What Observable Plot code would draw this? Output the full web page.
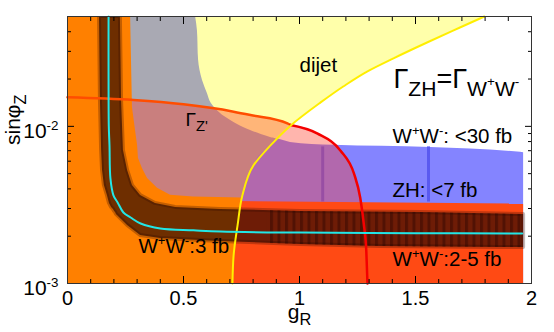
<!DOCTYPE html>
<html><head><meta charset="utf-8">
<script src="https://cdn.jsdelivr.net/npm/d3@7"></script>
<script src="https://cdn.jsdelivr.net/npm/@observablehq/plot@0.6"></script>
<style>
body{margin:0;background:#fff;}
#chart svg{display:block;font-family:"Liberation Sans",Arial,Helvetica,sans-serif;}
</style></head><body><div id="chart"></div>
<script>
// ---- data (x = g_R, y = sin phi_Z) ----
// dijet boundary (yellow line)
const dijetX = [0.711, 0.716, 0.733, 0.754, 0.802, 0.875, 0.961, 1.091, 1.190, 1.293, 1.405, 1.552, 1.694, 1.797];
const dijetY = [1.00e-3, 1.51e-3, 2.34e-3, 3.64e-3, 5.65e-3, 7.57e-3, 1.01e-2, 1.42e-2, 1.80e-2, 2.24e-2, 2.71e-2, 3.43e-2, 4.27e-2, 5.00e-2];
// ZH region upper edge, left part (inside dijet)
const zhTopLeftX = [0.900, 0.875, 0.789, 0.690, 0.620, 0.603, 0.582, 0.565, 0.560, 0.552];
const zhTopLeftY = [8.30e-3, 8.50e-3, 9.40e-3, 1.12e-2, 1.40e-2, 1.62e-2, 1.96e-2, 2.63e-2, 4.08e-2, 5.00e-2];
// ZH region upper edge, right part
const zhTopRightX = [0.900, 0.961, 1.147, 1.565, 1.953, 1.966];
const zhTopRightY = [8.30e-3, 7.90e-3, 7.57e-3, 7.34e-3, 6.83e-3, 6.80e-3];
const zhStripeX = [1.10, 1.556];
// Gamma_Z' boundary
const gammaX = [0, 0.284, 0.50, 0.716, 0.789, 0.948, 1.078, 1.177, 1.235, 1.262, 1.277, 1.288, 1.293];
const gammaY = [1.53e-2, 1.47e-2, 1.38e-2, 1.24e-2, 1.18e-2, 1.045e-2, 9.0e-3, 7.0e-3, 5.0e-3, 3.5e-3, 2.4e-3, 1.6e-3, 1.0e-3];
// W+W- 2-5 fb region (top edge)
const ww25X = [0.700, 1.966];
const ww25Y = [3.32e-3, 3.20e-3];
// W+W- excluded region edge (orange), above the dijet line
const wwEdgeX = [0.752, 0.543, 0.444, 0.388, 0.345, 0.323, 0.306, 0.302, 0.293, 0.280, 0.272];
const wwEdgeY = [3.50e-3, 3.55e-3, 3.64e-3, 4.03e-3, 4.66e-3, 5.40e-3, 6.25e-3, 7.57e-3, 9.44e-3, 1.32e-2, 5.00e-2];
// W+W- 3 fb band (dark): y, left/lower edge x, right/upper edge x
const bandY  = [1.695e-3, 1.721e-3, 1.772e-3, 1.852e-3, 1.935e-3, 2.021e-3, 2.341e-3, 2.751e-3, 2.833e-3, 2.875e-3, 2.960e-3, 3.049e-3, 3.233e-3, 3.636e-3, 4.210e-3, 5.245e-3, 7.033e-3, 1.464e-2, 5.0e-2];
const bandX1 = [1.866, 1.349, 1.004, 0.659, 0.401, 0.315, 0.259, 0.211, 0.207, 0.203, 0.198, 0.190, 0.181, 0.172, 0.159, 0.151, 0.147, 0.142, 0.138];
const bandX2 = [1.966, 1.966, 1.966, 1.966, 1.966, 1.966, 1.966, 1.966, 1.522, 1.004, 0.659, 0.466, 0.379, 0.315, 0.280, 0.259, 0.241, 0.233, 0.228];
// striped (right) part of the band
const bandRightX  = [0.86, 1.0, 1.35, 1.52, 1.966];
const bandRightY1 = [1.80e-3, 1.77e-3, 1.72e-3, 1.71e-3, 1.69e-3];
const bandRightY2 = [2.91e-3, 2.875e-3, 2.84e-3, 2.833e-3, 2.751e-3];
// W+W- = 3 fb central curve (cyan)
const cyanX = [0.177, 0.177, 0.178, 0.181, 0.185, 0.198, 0.216, 0.241, 0.272, 0.315, 0.40, 0.543, 0.66, 1.0, 1.5, 1.96];
const cyanY = [5.0e-2, 2.0e-2, 1.0e-2, 7.57e-3, 4.66e-3, 3.64e-3, 3.28e-3, 2.83e-3, 2.63e-3, 2.41e-3, 2.24e-3, 2.18e-3, 2.14e-3, 2.11e-3, 2.09e-3, 2.08e-3];
// labels
const labelText = ["dijet", "Γ_{ZH}=Γ_{W}~{+}_{W}~{-}", "W^{+}W^{-}: <30 fb", "ZH: <7 fb", "W^{+}W^{-}:2-5 fb", "W^{+}W^{-}:3 fb", "Γ_{Z'}"];
const labelX = [1.0, 1.405, 1.401, 1.401, 1.401, 0.306, 0.509];
const labelY = [0.0221, 0.01746, 7.85e-3, 3.53e-3, 1.30e-3, 1.57e-3, 1.01e-2];
const labelSize = [20.5, 27, 20.5, 20.5, 20.5, 20.5, 19];
const xTicks = [0, 0.5, 1, 1.5, 2];
const xTickLabels = ["0", "0.5", "1", "1.5", "2"];
const yTicks = [1e-3, 1e-2];
const yTickLabels = ["10^{-3}", "10^{-2}"];
const xLabel = "g_{R}";
const yLabel = "sinφ_{Z}";

// ---- build tables ----
const zip = (X, Y) => X.map((x, i) => ({x, y: Y[i]}));
const dijet = zip(dijetX, dijetY);
const yMin = 1e-3, yMax = 5e-2;
const yellowArea = [{x: 0, y: yMin}, ...dijet];
const zhLeft = [...dijet.filter(d => d.y < 8.3e-3), ...zip(zhTopLeftX, zhTopLeftY)];
const zhRight = [...dijet.filter(d => d.x < 0.9), ...zip(zhTopRightX, zhTopRightY)];
const gamma = zip(gammaX, gammaY);
const gammaSplit = 0.961;
const gammaA = [...gamma.filter(d => d.x <= gammaSplit), {x: gammaSplit, y: 1.02e-2}];
const gammaB = [{x: gammaSplit, y: 1.02e-2}, ...gamma.filter(d => d.x > gammaSplit)];
const ww25 = zip(ww25X, ww25Y);
const wwOrange = [...dijet.filter(d => d.y < 3.5e-3), ...zip(wwEdgeX, wwEdgeY)];
const band = bandY.map((y, i) => ({y, x1: bandX1[i], x2: bandX2[i]}));
const bandRight = bandRightX.map((x, i) => ({x, y1: bandRightY1[i], y2: bandRightY2[i]}));
const cyan = zip(cyanX, cyanY);
const labels = labelText.map((t, i) => ({t, x: labelX[i], y: labelY[i], s: labelSize[i]}));
const xMinor = d3.range(0, 21).map(i => i / 10).filter(v => !xTicks.includes(v));
const yMinor = [];
for (const e of [1e-3, 1e-2]) for (let k = 2; k <= 9; k++) if (k * e <= yMax + 1e-12) yMinor.push(k * e);

const chart = Plot.plot({
  width: 554, height: 332,
  marginLeft: 67, marginRight: 23, marginTop: 16, marginBottom: 49,
  style: {fontFamily: '"Liberation Sans", Arial, Helvetica, sans-serif', color: "#000", background: "#fff"},
  x: {domain: [0, 2]},
  y: {type: "log", domain: [yMin, yMax]},
  marks: [
    Plot.areaY(yellowArea, {x: "x", y1: "y", y2: yMax, fill: "#ffffaa", curve: "monotone-x"}),
    Plot.areaX(zhLeft, {y: "y", x1: 0, x2: "x", fill: "#a9a9b3", curve: "monotone-y"}),
    Plot.areaY(zhRight, {x: "x", y1: yMin, y2: "y", fill: "#8484ff", curve: "monotone-x"}),
    Plot.ruleX(zhStripeX, {x: d => d, y1: 3.3e-3, y2: 7.4e-3, stroke: "#5a5af0", strokeWidth: 3}),
    Plot.areaY(gamma, {x: "x", y1: yMin, y2: "y", fill: "#ff3c28", fillOpacity: 0.38, curve: "monotone-x"}),
    Plot.areaY(ww25, {x: "x", y1: yMin, y2: "y", fill: "#ff4a14"}),
    Plot.areaX(wwOrange, {y: "y", x1: 0, x2: "x", fill: "#ff8000", curve: "linear"}),
    // 3 fb band (dark, translucent, soft edge)
    Plot.areaX(band, {y: "y", x1: "x1", x2: "x2", fill: "#2a0800", fillOpacity: 0.68, stroke: "#2a0800", strokeOpacity: 0.28, strokeWidth: 4, curve: "linear", clip: true}),
    Plot.areaY(bandRight, {x: "x", y1: "y1", y2: "y2", fill: "url(#bandStripes)", curve: "linear", clip: true}),
    // boundary lines
    Plot.line(gammaA, {x: "x", y: "y", stroke: "#ff4d00", strokeWidth: 2.5, curve: "monotone-x"}),
    Plot.line(gammaB, {x: "x", y: "y", stroke: "#f40000", strokeWidth: 2.5, curve: "monotone-x"}),
    Plot.line(dijet, {x: "x", y: "y", stroke: "#ffee00", strokeWidth: 2, curve: "monotone-y"}),
    Plot.line(cyan, {x: "x", y: "y", stroke: "#22e6e6", strokeWidth: 2, curve: "catmull-rom"}),
    // labels
    Plot.text(labels, {x: "x", y: "y", text: "t", fontSize: "s", textAnchor: "start", lineAnchor: "bottom", fill: "#000"}),
    // axes: inward ticks on all sides
    Plot.axisX(xMinor, {anchor: "bottom", tickSize: -4, fill: "none", label: null}),
    Plot.axisX(xTicks, {anchor: "bottom", tickSize: -7, fill: "none", label: null}),
    Plot.axisX(xMinor, {anchor: "top", tickSize: -4, fill: "none", label: null}),
    Plot.axisX(xTicks, {anchor: "top", tickSize: -7, fill: "none", label: null}),
    Plot.axisY(yMinor, {anchor: "left", tickSize: -4, fill: "none", label: null}),
    Plot.axisY(yTicks, {anchor: "left", tickSize: -7, fill: "none", label: null}),
    Plot.axisY(yMinor, {anchor: "right", tickSize: -4, fill: "none", label: null}),
    Plot.axisY(yTicks, {anchor: "right", tickSize: -7, fill: "none", label: null}),
    Plot.axisX(xTicks, {anchor: "bottom", tickSize: 0, tickPadding: 7, tickFormat: (d, i) => xTickLabels[i], fontSize: 20, label: null}),
    Plot.text(yTicks, {x: () => 0, y: d => d, text: (d, i) => yTickLabels[i], textAnchor: "end", dx: -9, dy: 4.5, fontSize: 21, fill: "#000"}),
    Plot.text([xLabel], {frameAnchor: "bottom", text: d => d, dy: 29, fontSize: 21, lineAnchor: "middle"}),
    Plot.text([yLabel], {frameAnchor: "left", text: d => d, rotate: -90, dx: -54, dy: -5, fontSize: 21, lineAnchor: "middle"}),
    Plot.frame({stroke: "#333", strokeWidth: 1})
  ]
});
document.getElementById("chart").appendChild(chart);

// stripe pattern used by the right part of the band
const NS = "http://www.w3.org/2000/svg";
const defs = document.createElementNS(NS, "defs");
defs.innerHTML = '<pattern id="bandStripes" patternUnits="userSpaceOnUse" width="7.5" height="20"><rect x="0" y="0" width="3" height="20" fill="#1a0000" fill-opacity="0.35"/></pattern>';
chart.insertBefore(defs, chart.firstChild);

// sub/superscript markup -> tspans
const kinds = {n: [0, 1], "_": [0.28, 0.78], "^": [-0.38, 0.64], "~": [-0.08, 0.5]};
function rich(el) {
  const s = el.textContent;
  if (!/[_^~]\{/.test(s)) return;
  const fs = parseFloat(getComputedStyle(el).fontSize) || 16;
  const re = /([_^~])\{([^}]*)\}/g;
  const parts = []; let last = 0, m;
  while ((m = re.exec(s))) { if (m.index > last) parts.push(["n", s.slice(last, m.index)]); parts.push([m[1], m[2]]); last = re.lastIndex; }
  if (last < s.length) parts.push(["n", s.slice(last)]);
  while (el.firstChild) el.removeChild(el.firstChild);
  let cur = 0;
  for (const [k, t] of parts) {
    const [shift, scale] = kinds[k];
    const ts = document.createElementNS(NS, "tspan");
    const target = shift * fs;
    if (Math.abs(target - cur) > 1e-6) ts.setAttribute("dy", (target - cur).toFixed(2));
    cur = target;
    ts.setAttribute("font-size", (scale * fs).toFixed(1));
    ts.textContent = t;
    el.appendChild(ts);
  }
}
d3.select(chart).selectAll("text").each(function () { rich(this); });
</script></body></html>
